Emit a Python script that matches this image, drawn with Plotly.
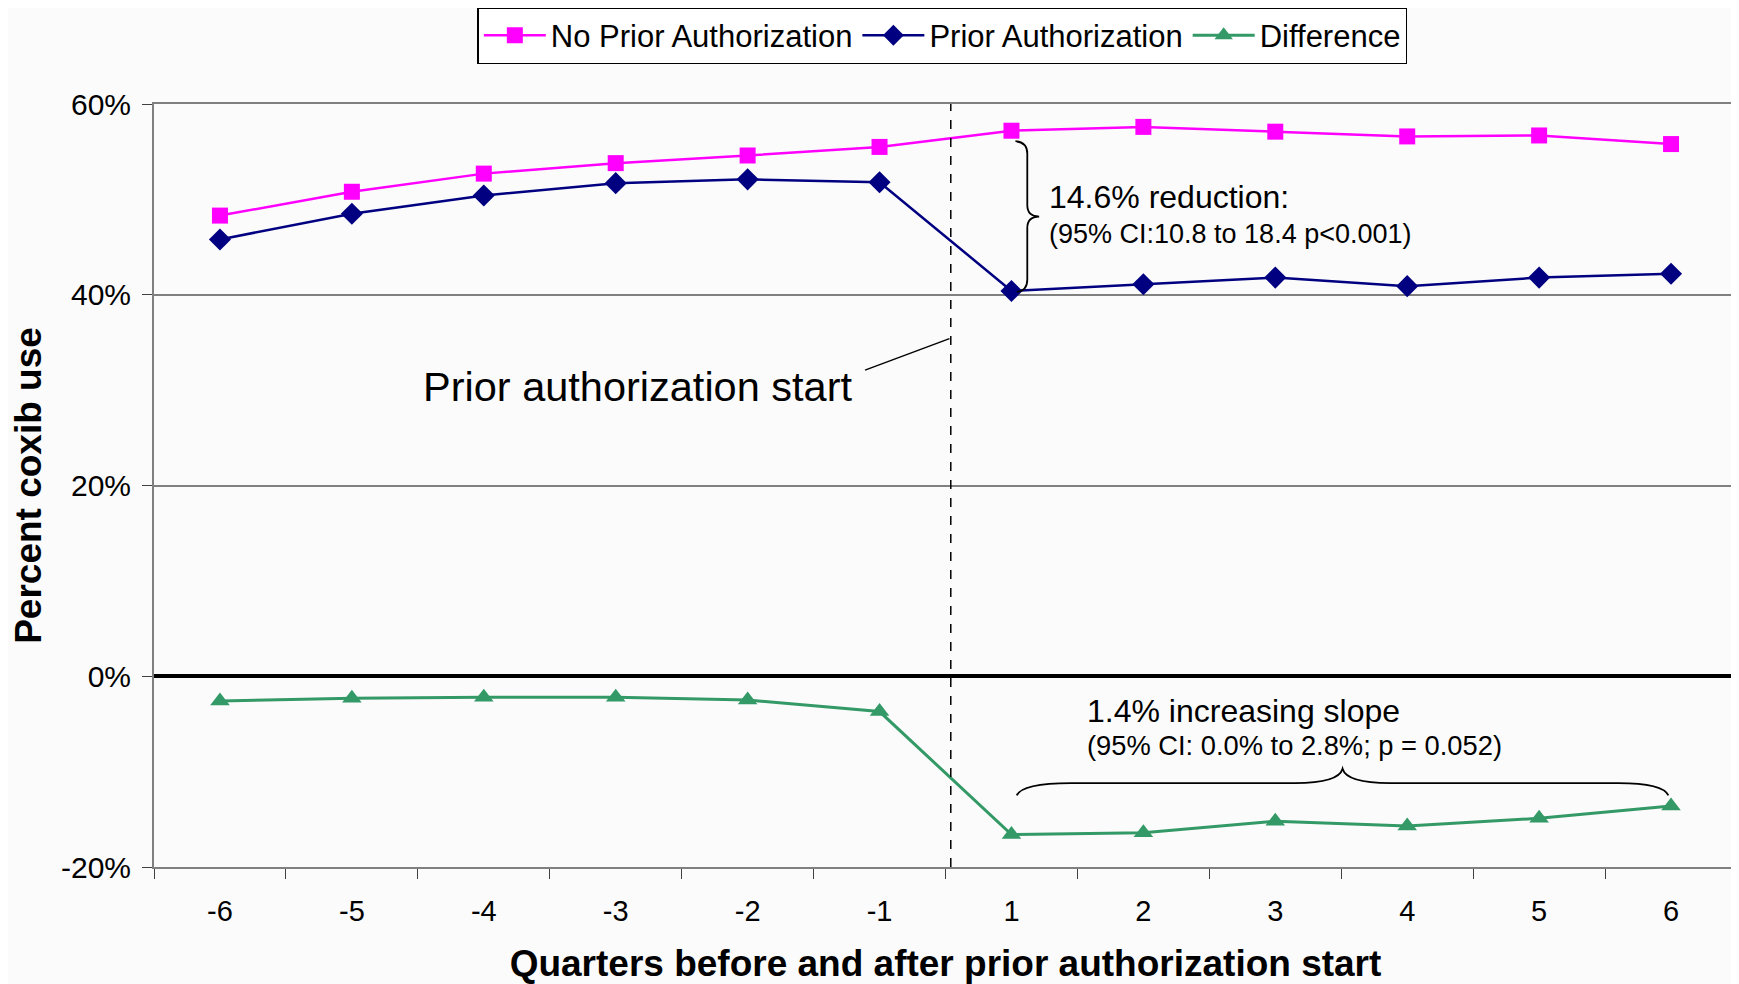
import plotly.graph_objects as go

quarters = ["-6", "-5", "-4", "-3", "-2", "-1", "1", "2", "3", "4", "5", "6"]
no_prior_auth = [48.3, 50.8, 52.7, 53.8, 54.6, 55.5, 57.2, 57.6, 57.1, 56.6, 56.7, 55.8]
prior_auth = [45.8, 48.5, 50.4, 51.7, 52.1, 51.8, 40.4, 41.1, 41.8, 40.9, 41.8, 42.2]
difference = [-2.6, -2.3, -2.2, -2.2, -2.5, -3.7, -16.6, -16.4, -15.2, -15.7, -14.9, -13.6]
y_ticks = [-20, 0, 20, 40, 60]
y_tick_labels = [f"{v}%" for v in y_ticks]

FONT = "Liberation Sans, Arial, sans-serif"

fig = go.Figure()
fig.add_trace(go.Scatter(x=quarters, y=no_prior_auth, mode="lines+markers",
                         name="No Prior Authorization",
                         line=dict(color="#FF00FF", width=2.5),
                         marker=dict(symbol="square", size=16, color="#FF00FF")))
fig.add_trace(go.Scatter(x=quarters, y=prior_auth, mode="lines+markers",
                         name="Prior Authorization",
                         line=dict(color="#000080", width=2.5),
                         marker=dict(symbol="diamond", size=17, color="#000080")))
fig.add_trace(go.Scatter(x=quarters, y=difference, mode="lines+markers",
                         name="Difference",
                         line=dict(color="#339966", width=3),
                         marker=dict(symbol="triangle-up", size=17, color="#339966")))

shapes = [
    dict(type="line", xref="paper", yref="y", x0=0, x1=1, y0=40, y1=40,
         line=dict(color="black", width=1.5), layer="below"),
    dict(type="line", xref="x", yref="paper", x0=5.54, x1=5.54, y0=0, y1=1,
         line=dict(color="black", width=1.5, dash="dash")),
    dict(type="line", xref="x", yref="y", x0=4.89, y0=32.1, x1=5.53, y1=35.4,
         line=dict(color="black", width=1.5)),
    dict(type="path", xref="x", yref="y",
         path="M 6.03,56.1 Q 6.12,56.0 6.12,54.8 L 6.12,49.4 Q 6.12,48.2 6.21,48.2 "
              "Q 6.12,48.2 6.12,47.0 L 6.12,41.6 Q 6.12,40.4 6.04,40.3",
         line=dict(color="black", width=1.8)),
    dict(type="path", xref="x", yref="y",
         path="M 6.04,-12.5 Q 6.08,-11.2 6.45,-11.2 L 8.15,-11.2 Q 8.48,-11.2 8.51,-9.7 "
              "Q 8.54,-11.2 8.87,-11.2 L 10.6,-11.2 Q 10.94,-11.2 10.98,-12.5",
         line=dict(color="black", width=1.8)),
]

annotations = [
    dict(x=6.27, y=50.2, xref="x", yref="y", text="14.6% reduction:", showarrow=False,
         xanchor="left", yanchor="middle", font=dict(size=32, color="black", family=FONT)),
    dict(x=6.27, y=46.4, xref="x", yref="y", text="(95% CI:10.8 to 18.4 p<0.001)", showarrow=False,
         xanchor="left", yanchor="middle", font=dict(size=27, color="black", family=FONT)),
    dict(x=4.81, y=30.4, xref="x", yref="y", text="Prior authorization start", showarrow=False,
         xanchor="right", yanchor="middle", font=dict(size=41.5, color="black", family=FONT)),
    dict(x=6.56, y=-3.6, xref="x", yref="y", text="1.4% increasing slope", showarrow=False,
         xanchor="left", yanchor="middle", font=dict(size=32, color="black", family=FONT)),
    dict(x=6.56, y=-7.3, xref="x", yref="y", text="(95% CI: 0.0% to 2.8%; p = 0.052)", showarrow=False,
         xanchor="left", yanchor="middle", font=dict(size=27.3, color="black", family=FONT)),
]

# The page body adds an 8px offset, so the figure is 8px smaller and margins compensate.
fig.update_layout(
    width=1731, height=976,
    margin=dict(l=146, r=2, t=96, b=117, autoexpand=False),
    paper_bgcolor="#fbfbfb", plot_bgcolor="#fbfbfb",
    font=dict(family=FONT, color="black"),
    showlegend=True,
    legend=dict(orientation="h", x=0.498, xanchor="center", y=1.127, yanchor="top",
                bgcolor="white", bordercolor="black", borderwidth=1.5,
                font=dict(size=31, family=FONT, color="black"),
                itemwidth=62, tracegroupgap=0),
    shapes=shapes,
    annotations=annotations,
    xaxis=dict(type="category", categoryorder="array", categoryarray=quarters,
               range=[-0.5, 11.5], showgrid=False, zeroline=False,
               showline=True, linecolor="#808080", linewidth=2, mirror=True,
               ticks="outside", tickson="boundaries", ticklen=10, tickcolor="#404040",
               tickfont=dict(size=29, family=FONT, color="black"),
               ticklabelstandoff=17, automargin=False,
               title=dict(text="<b>Quarters before and after prior authorization start</b>",
                          font=dict(size=37, family=FONT, color="black"), standoff=27)),
    yaxis=dict(range=[-20, 60], tickvals=y_ticks, ticktext=y_tick_labels,
               showgrid=True, gridcolor="#808080", gridwidth=1.5,
               zeroline=True, zerolinecolor="black", zerolinewidth=4,
               showline=True, linecolor="#808080", linewidth=2, mirror=True,
               ticks="outside", ticklen=10, tickcolor="#404040",
               tickfont=dict(size=30, family=FONT, color="black"),
               ticklabelstandoff=5, automargin=False,
               title=dict(text="<b>Percent coxib use</b>",
                          font=dict(size=37, family=FONT, color="black"), standoff=10)),
)

fig.write_html("out.html")
